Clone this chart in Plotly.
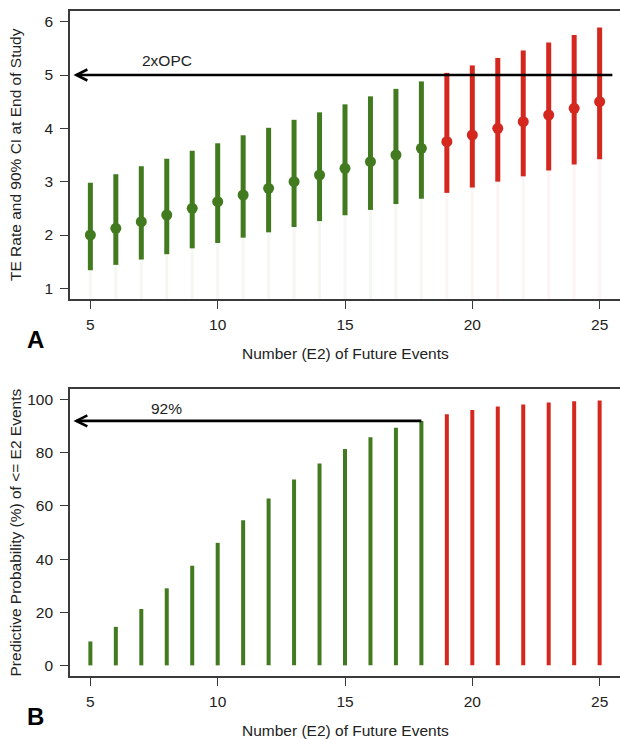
import plotly.graph_objects as go

# ---------------- data ----------------
events = [5, 6, 7, 8, 9, 10, 11, 12, 13, 14, 15, 16, 17, 18, 19, 20, 21, 22, 23, 24, 25]
te_rate = [2.0, 2.125, 2.25, 2.375, 2.5, 2.625, 2.75, 2.875, 3.0, 3.125, 3.25, 3.375,
           3.5, 3.625, 3.75, 3.875, 4.0, 4.125, 4.25, 4.375, 4.5]
ci_lower = [1.34, 1.44, 1.54, 1.64, 1.75, 1.85, 1.95, 2.05, 2.15, 2.26, 2.37, 2.47,
            2.58, 2.68, 2.79, 2.89, 3.00, 3.10, 3.21, 3.32, 3.42]
ci_upper = [2.98, 3.14, 3.29, 3.43, 3.58, 3.72, 3.87, 4.01, 4.16, 4.30, 4.45, 4.60,
            4.74, 4.88, 5.04, 5.18, 5.32, 5.46, 5.61, 5.75, 5.89]
pred_prob = [9.0, 14.5, 21.2, 29.0, 37.5, 46.1, 54.6, 62.8, 69.9, 76.0, 81.4, 85.8,
             89.4, 92.0, 94.5, 96.1, 97.4, 98.2, 98.9, 99.4, 99.7]
cutoff_event = 18          # last "green" event count
opc_level = 5              # 2 x OPC
opc_label = "2xOPC"
prob_level = 92
prob_label = "92%"
arrow_start_top = 25.5
arrow_tip = 4.45
label_x = 8
opc_label_y = 5.28
prob_label_y = 96.5

x_ticks = [5, 10, 15, 20, 25]
y1_ticks = [1, 2, 3, 4, 5, 6]
y2_ticks = [0, 20, 40, 60, 80, 100]
x_title = "Number (E2) of Future Events"
y1_title = "TE Rate and 90% CI at End of Study"
y2_title = "Predictive Probability (%) of <= E2 Events"

GREEN = "#427b1f"
RED = "#d4271e"
FONT = "Liberation Sans, Arial, Helvetica, sans-serif"
FS = 15.5
TXT = "#222222"
AX = "#3a3a3a"


def segs(xs, lo, hi):
    sx, sy = [], []
    for x, a, b in zip(xs, lo, hi):
        sx += [x, x, None]
        sy += [a, b, None]
    return sx, sy


g_idx = [i for i, e in enumerate(events) if e <= cutoff_event]
r_idx = [i for i, e in enumerate(events) if e > cutoff_event]

fig = go.Figure()

# faint extensions below the CI (as in original)
for idx, col in ((g_idx, "rgba(66,123,31,0.06)"), (r_idx, "rgba(212,39,30,0.05)")):
    sx, sy = segs([events[i] for i in idx], [0.8] * len(idx), [ci_lower[i] for i in idx])
    fig.add_trace(go.Scatter(x=sx, y=sy, mode="lines", line=dict(color=col, width=3),
                             hoverinfo="skip", showlegend=False, xaxis="x", yaxis="y"))

# panel A: CI lines + points
for idx, col in ((g_idx, GREEN), (r_idx, RED)):
    sx, sy = segs([events[i] for i in idx], [ci_lower[i] for i in idx], [ci_upper[i] for i in idx])
    fig.add_trace(go.Scatter(x=sx, y=sy, mode="lines", line=dict(color=col, width=5),
                             showlegend=False, xaxis="x", yaxis="y"))
    fig.add_trace(go.Scatter(x=[events[i] for i in idx], y=[te_rate[i] for i in idx],
                             mode="markers", marker=dict(color=col, size=11),
                             showlegend=False, xaxis="x", yaxis="y"))

# panel B: probability bars
for idx, col in ((g_idx, GREEN), (r_idx, RED)):
    sx, sy = segs([events[i] for i in idx], [0] * len(idx), [pred_prob[i] for i in idx])
    fig.add_trace(go.Scatter(x=sx, y=sy, mode="lines", line=dict(color=col, width=4),
                             showlegend=False, xaxis="x2", yaxis="y2"))

# arrows (shafts)
fig.add_trace(go.Scatter(x=[arrow_start_top, arrow_tip], y=[opc_level, opc_level], mode="lines",
                         line=dict(color="black", width=2.6), showlegend=False,
                         xaxis="x", yaxis="y"))
fig.add_trace(go.Scatter(x=[cutoff_event, arrow_tip], y=[prob_level, prob_level], mode="lines",
                         line=dict(color="black", width=2.6), showlegend=False,
                         xaxis="x2", yaxis="y2"))

# open arrow heads
for xr, yr, yv in (("x", "y", opc_level), ("x2", "y2", prob_level)):
    fig.add_shape(type="path", xref=xr, yref=yr, xsizemode="pixel", ysizemode="pixel",
                  xanchor=arrow_tip, yanchor=yv, path="M 11,5.5 L 0,0 L 11,-5.5",
                  line=dict(color="black", width=2.6))

ann = []
ann.append(dict(x=label_x, y=opc_label_y, xref="x", yref="y", text=opc_label, showarrow=False,
                font=dict(family=FONT, size=FS, color=TXT)))
ann.append(dict(x=label_x, y=prob_label_y, xref="x2", yref="y2", text=prob_label, showarrow=False,
                font=dict(family=FONT, size=FS, color=TXT)))
for xr, yr, yt, letter in (("x", "y", y1_title, "A"), ("x2", "y2", y2_title, "B")):
    ann.append(dict(x=0.5, y=0, xref=xr + " domain", yref=yr + " domain", text=x_title,
                    showarrow=False, yshift=-54, yanchor="middle",
                    font=dict(family=FONT, size=FS, color=TXT)))
    ann.append(dict(x=0, y=0.5, xref=xr + " domain", yref=yr + " domain", text=yt,
                    showarrow=False, xshift=-55, xanchor="center", textangle=-90,
                    font=dict(family=FONT, size=FS, color=TXT)))
    ann.append(dict(x=0, y=0, xref=xr + " domain", yref=yr + " domain", text="<b>" + letter + "</b>",
                    showarrow=False, xshift=-35, yshift=-40, xanchor="center", yanchor="middle",
                    font=dict(family=FONT, size=24, color="black")))

xcommon = dict(range=[4.2, 25.8], tickvals=x_ticks, ticks="outside", ticklen=8, tickwidth=1.2,
               tickcolor=AX, showline=True, linecolor=AX, linewidth=1.6, mirror=True,
               showgrid=False, zeroline=False, ticklabelstandoff=3,
               tickfont=dict(family=FONT, size=FS, color=TXT))
ycommon = dict(ticks="outside", ticklen=8, tickwidth=1.2, tickcolor=AX, showline=True,
               linecolor=AX, linewidth=1.6, showgrid=False, zeroline=False,
               ticklabelstandoff=4, tickfont=dict(family=FONT, size=FS, color=TXT))

fig.update_layout(
    width=620, height=739,
    margin=dict(l=70, r=0, t=11, b=63),
    paper_bgcolor="white", plot_bgcolor="white",
    showlegend=False,
    xaxis=dict(domain=[0, 1], anchor="y", **xcommon),
    yaxis=dict(domain=[0.5669, 1], anchor="x", range=[0.8, 6.2], tickvals=y1_ticks, **ycommon),
    xaxis2=dict(domain=[0, 1], anchor="y2", **xcommon),
    yaxis2=dict(domain=[0, 0.4316], anchor="x2", range=[-4, 104], tickvals=y2_ticks, **ycommon),
    annotations=ann,
)

fig.write_html("out.html", config={"displayModeBar": False},
               post_script="document.body.style.margin='0';document.body.style.padding='0';")
